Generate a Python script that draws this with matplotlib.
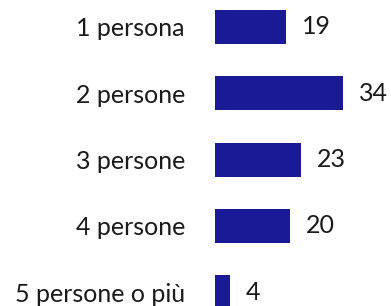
import matplotlib
matplotlib.use("Agg")
import matplotlib.pyplot as plt

categories = ["1 persona", "2 persone", "3 persone", "4 persone", "5 persone o più"]
values = [19, 34, 23, 20, 4]

W, H, DPI = 391, 306, 100
fig = plt.figure(figsize=(W / DPI, H / DPI), dpi=DPI)
fig.patch.set_facecolor("white")

left_px = 215
ax = fig.add_axes([left_px / W, 0, (W - left_px) / W, 1])
px_per_unit = 3.75
ax.set_xlim(0, (W - left_px) / px_per_unit)
spacing = 66.3
c0 = 27
ax.set_ylim((H - c0) / spacing, -c0 / spacing)

pos = list(range(len(categories)))
bars = ax.barh(pos, values, height=34 / spacing, color="#1a1a96", edgecolor="none")

font = "Lato"
fs = 18
ax.set_yticks(pos)
ax.set_yticklabels(categories, fontsize=fs, family=font, color="#1a1a1a")
ax.tick_params(axis="y", length=0, pad=30 * 0.72)
ax.set_xticks([])
for s in ax.spines.values():
    s.set_visible(False)

ax.bar_label(bars, labels=[str(v) for v in values], padding=16 * 0.72,
             fontsize=fs, family=font, color="#1a1a1a", clip_on=False)

fig.savefig("out.png", dpi=DPI)
